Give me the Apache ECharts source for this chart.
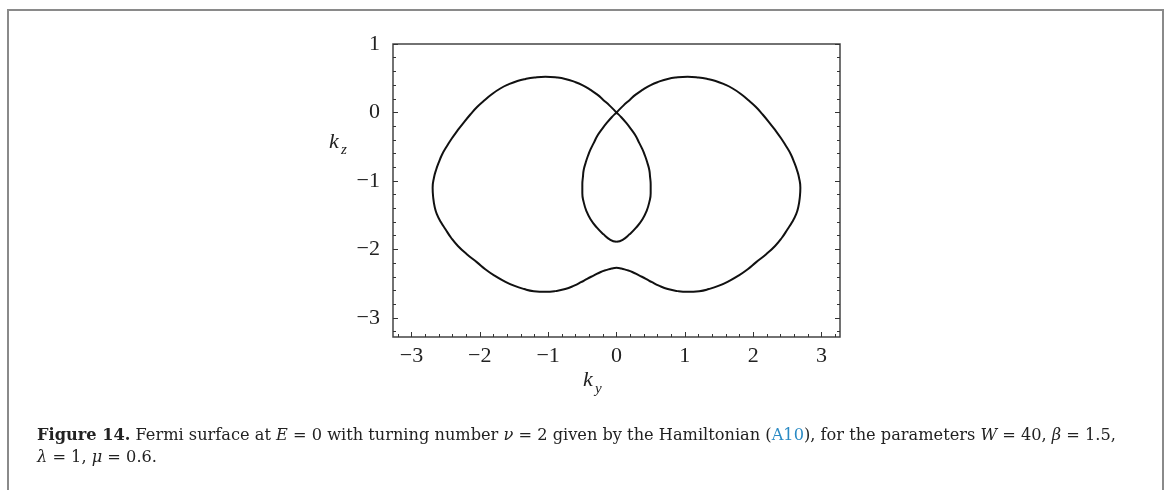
<!DOCTYPE html>
<html>
<head>
<meta charset="utf-8">
<script src="https://cdn.jsdelivr.net/npm/echarts@6/dist/echarts.min.js"></script>
<style>
  html, body { margin: 0; padding: 0; background: #fff; }
  #main { width: 1170px; height: 490px; }
</style>
</head>
<body>
<div id="main"></div>
<script>
// Fermi surface, in path order (one line per stretch):
// lens right half going up, left lobe top, left lobe bottom,
// right lobe bottom, right lobe top, lens left half going down
const fermiKy = [
  0, 0.09, 0.19, 0.29, 0.38, 0.44, 0.48, 0.50, 0.50, 0.49, 0.48, 0.45, 0.42, 0.38, 0.33, 0.28, 0.21, 0.14, 0.07, 0,
  -0.10, -0.19, -0.28, -0.38, -0.50, -0.62, -0.75, -0.87, -1.04, -1.20, -1.33, -1.45, -1.58, -1.70, -1.82, -1.94, -2.04, -2.13, -2.23, -2.33, -2.41, -2.48, -2.55, -2.60, -2.64, -2.67, -2.69,
  -2.68, -2.66, -2.63, -2.57, -2.50, -2.42, -2.32, -2.19, -2.04, -1.92, -1.79, -1.65, -1.50, -1.35, -1.21, -1.04, -0.90, -0.75, -0.62, -0.52, -0.43, -0.33, -0.23, -0.14, -0.07, 0,
  0.07, 0.14, 0.23, 0.33, 0.43, 0.52, 0.62, 0.75, 0.90, 1.04, 1.21, 1.35, 1.50, 1.65, 1.79, 1.92, 2.04, 2.19, 2.32, 2.42, 2.50, 2.57, 2.63, 2.66, 2.68, 2.69,
  2.67, 2.64, 2.60, 2.55, 2.48, 2.41, 2.33, 2.23, 2.13, 2.04, 1.94, 1.82, 1.70, 1.58, 1.45, 1.33, 1.20, 1.04, 0.87, 0.75, 0.62, 0.50, 0.38, 0.28, 0.19, 0.10, 0,
  -0.07, -0.14, -0.21, -0.28, -0.33, -0.38, -0.42, -0.45, -0.48, -0.49, -0.50, -0.50, -0.48, -0.44, -0.38, -0.29, -0.19, -0.09, 0
];
const fermiKz = [
  -1.89, -1.86, -1.78, -1.68, -1.56, -1.44, -1.31, -1.18, -1.05, -0.93, -0.84, -0.73, -0.64, -0.54, -0.44, -0.34, -0.24, -0.15, -0.07, 0,
  0.10, 0.18, 0.26, 0.33, 0.40, 0.45, 0.49, 0.51, 0.52, 0.51, 0.49, 0.46, 0.41, 0.35, 0.27, 0.17, 0.08, -0.02, -0.14, -0.27, -0.38, -0.49, -0.61, -0.73, -0.84, -0.95, -1.10,
  -1.26, -1.38, -1.48, -1.60, -1.71, -1.83, -1.95, -2.07, -2.19, -2.29, -2.38, -2.46, -2.53, -2.58, -2.61, -2.62, -2.61, -2.58, -2.53, -2.48, -2.43, -2.38, -2.33, -2.30, -2.28, -2.27,
  -2.28, -2.30, -2.33, -2.38, -2.43, -2.48, -2.53, -2.58, -2.61, -2.62, -2.61, -2.58, -2.53, -2.46, -2.38, -2.29, -2.19, -2.07, -1.95, -1.83, -1.71, -1.60, -1.48, -1.38, -1.26, -1.10,
  -0.95, -0.84, -0.73, -0.61, -0.49, -0.38, -0.27, -0.14, -0.02, 0.08, 0.17, 0.27, 0.35, 0.41, 0.46, 0.49, 0.51, 0.52, 0.51, 0.49, 0.45, 0.40, 0.33, 0.26, 0.18, 0.10, 0,
  -0.07, -0.15, -0.24, -0.34, -0.44, -0.54, -0.64, -0.73, -0.84, -0.93, -1.05, -1.18, -1.31, -1.44, -1.56, -1.68, -1.78, -1.86, -1.89
];

const kyTicks = [-3, -2, -1, 0, 1, 2, 3];
const kzTicks = [1, 0, -1, -2, -3];
const kyRange = [-3.27, 3.27];
const kzRange = [-3.28, 1];

// minor ticks every 0.2
const minorTicks = (lo, hi) => {
  const out = [];
  for (let i = Math.ceil(lo * 5); i <= Math.floor(hi * 5); i++) out.push(i / 5);
  return out;
};
const kyMinor = minorTicks(kyRange[0], kyRange[1]);
const kzMinor = minorTicks(kzRange[0], kzRange[1]);

const texFont = "'Liberation Serif', serif";
const capFont = "'DejaVu Serif', serif";
const capSize = 16.2;
const fmt = (v) => (v < 0 ? "\u2212" + Math.abs(v) : String(v));

const chart = echarts.init(document.getElementById("main"));

const tickStyle = { color: "#333", width: 1 };

const xAxisBase = {
  type: "value",
  min: kyRange[0],
  max: kyRange[1],
  position: "bottom",
  axisLine: { show: false, onZero: false },
  splitLine: { show: false },
};
const yAxisBase = {
  type: "value",
  min: kzRange[0],
  max: kzRange[1],
  axisLine: { show: false, onZero: false },
  splitLine: { show: false },
};

const capRich = {
  b: { fontWeight: "bold", fontFamily: capFont, fontSize: capSize, fill: "#222" },
  i: { fontStyle: "italic", fontFamily: capFont, fontSize: capSize, fill: "#222" },
  a: { fontFamily: capFont, fontSize: capSize, fill: "#2a8ac4" },
};

const option = {
  animation: false,
  grid: {
    left: 393,
    top: 44,
    width: 447,
    height: 293,
    show: true,
    borderColor: "#444",
    borderWidth: 1.5,
    backgroundColor: "transparent",
  },
  xAxis: [
    {
      ...xAxisBase,
      axisTick: { inside: true, length: 5, customValues: kyTicks, lineStyle: tickStyle },
      axisLabel: {
        customValues: kyTicks,
        formatter: fmt,
        margin: 8,
        color: "#222",
        fontFamily: texFont,
        fontSize: 22,
      },
    },
    {
      ...xAxisBase,
      axisTick: { inside: true, length: 3, customValues: kyMinor, lineStyle: tickStyle },
      axisLabel: { show: false },
    },
  ],
  yAxis: [
    {
      ...yAxisBase,
      position: "left",
      axisTick: { inside: true, length: 5, customValues: kzTicks, lineStyle: tickStyle },
      axisLabel: {
        customValues: kzTicks,
        formatter: fmt,
        margin: 13,
        color: "#222",
        fontFamily: texFont,
        fontSize: 22,
      },
    },
    {
      ...yAxisBase,
      position: "left",
      axisTick: { inside: true, length: 3, customValues: kzMinor, lineStyle: tickStyle },
      axisLabel: { show: false },
    },
    {
      ...yAxisBase,
      position: "right",
      axisTick: { inside: true, length: 5, customValues: kzTicks, lineStyle: tickStyle },
      axisLabel: { show: false },
    },
    {
      ...yAxisBase,
      position: "right",
      axisTick: { inside: true, length: 3, customValues: kzMinor, lineStyle: tickStyle },
      axisLabel: { show: false },
    },
  ],
  series: [
    {
      type: "line",
      xAxisIndex: 0,
      yAxisIndex: 0,
      data: fermiKy.map((ky, i) => [ky, fermiKz[i]]),
      smooth: 0.5,
      showSymbol: false,
      lineStyle: { color: "#111", width: 2 },
    },
  ],
  graphic: [
    // page frame, open at the bottom
    { type: "polyline", shape: { points: [[8, 490], [8, 10], [1163, 10], [1163, 490]] }, style: { stroke: "#8a8a8a", lineWidth: 2, fill: null } },
    // axis names
    { type: "text", x: 329, y: 142, style: { text: "k", font: "italic 22px " + texFont, fill: "#222", verticalAlign: "middle" } },
    { type: "text", x: 341, y: 150, style: { text: "z", font: "italic 15px " + texFont, fill: "#222", verticalAlign: "middle" } },
    { type: "text", x: 583, y: 380, style: { text: "k", font: "italic 22px " + texFont, fill: "#222", verticalAlign: "middle" } },
    { type: "text", x: 595, y: 389, style: { text: "y", font: "italic 15px " + texFont, fill: "#222", verticalAlign: "middle" } },
    // caption
    {
      type: "text",
      x: 37,
      y: 436,
      style: {
        text:
          "{b|Figure 14.} Fermi surface at {i|E} = 0 with turning number {i|\u03bd} = 2 given by the Hamiltonian ({a|A10}), for the parameters {i|W} = 40, {i|\u03b2} = 1.5,",
        font: capSize + "px " + capFont,
        fill: "#222",
        verticalAlign: "middle",
        rich: capRich,
      },
    },
    {
      type: "text",
      x: 37,
      y: 458,
      style: {
        text: "{i|\u03bb} = 1, {i|\u03bc} = 0.6.",
        font: capSize + "px " + capFont,
        fill: "#222",
        verticalAlign: "middle",
        rich: capRich,
      },
    },
  ],
};

chart.setOption(option);
</script>
</body>
</html>
